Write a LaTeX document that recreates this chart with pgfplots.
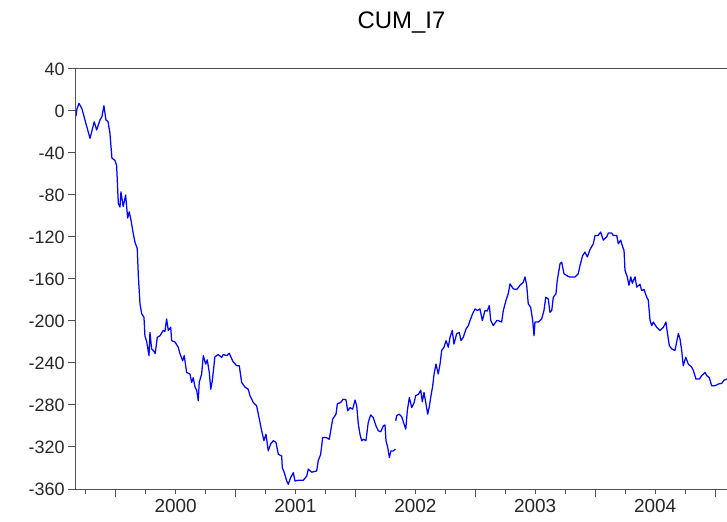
\documentclass[border=0pt]{standalone}
\usepackage{pgfplots}
\pgfplotsset{compat=1.18}
\usepackage{fontspec}
\setmainfont{Liberation Sans}
\definecolor{axisgray}{HTML}{505050}
\definecolor{labgray}{HTML}{262626}
\begin{document}
\begin{tikzpicture}[x=1bp,y=1bp]
\begin{axis}[
 at={(0,0)}, anchor=south west,
 scale only axis, width=651bp, height=420bp,
 xmin=1999.669, xmax=2005.100, ymin=-360, ymax=40,
 axis line style={draw=none},
 ytick={-360,-320,...,40},
 xtick={2000,2001,2002,2003,2004,2005}, xticklabels={},
 minor xtick={1999.75,2000.25,2000.5,2000.75,2001.25,2001.5,2001.75,2002.25,2002.5,2002.75,2003.25,2003.5,2003.75,2004.25,2004.5,2004.75},
 extra x ticks={2000.5,2001.5,2002.5,2003.5,2004.5},
 extra x tick labels={2000,2001,2002,2003,2004},
 extra x tick style={major tick length=0pt, tick style={draw=none}, xticklabel style={yshift=-7bp, font=\fontsize{19}{21}\selectfont}},
 tick align=outside, xtick pos=bottom, ytick pos=left,
 major tick length=8bp, minor tick length=4.5bp,
 tick style={color=axisgray, line width=1bp},
 /pgf/number format/assume math mode=true,
 ticklabel style={font=\fontsize{18}{20}\selectfont, text=labgray},
 title={CUM\_I7},
 title style={font=\fontsize{24}{26}\selectfont, at={(0.5,1)}, anchor=base, yshift=35bp},
 unbounded coords=jump,
 clip=false,
]
\addplot[color=blue, line width=1.25bp, line join=round] coordinates {
(1999.669,-5) (1999.677,2) (1999.694,7.3) (1999.719,2) (1999.752,-12) (1999.786,-26)
(1999.821,-10.3) (1999.841,-18) (1999.869,-8.7) (1999.886,-5) (1999.902,5) (1999.919,-8.7)
(1999.936,-10) (1999.952,-21) (1999.961,-34) (1999.969,-45) (1999.994,-47) (2000.008,-52)
(2000.022,-88) (2000.036,-91.5) (2000.044,-77) (2000.063,-91) (2000.083,-80) (2000.100,-102)
(2000.113,-96) (2000.128,-104) (2000.147,-117) (2000.161,-125) (2000.180,-131) (2000.189,-156.7)
(2000.203,-183.7) (2000.217,-193) (2000.236,-196.5) (2000.244,-214) (2000.259,-220) (2000.278,-233)
(2000.286,-210.8) (2000.300,-226.7) (2000.314,-228) (2000.330,-231) (2000.347,-215.6) (2000.370,-214)
(2000.397,-209) (2000.411,-210) (2000.425,-198) (2000.439,-209) (2000.459,-206) (2000.467,-218.7)
(2000.495,-220) (2000.522,-225) (2000.536,-231) (2000.559,-237.8) (2000.572,-233) (2000.592,-249)
(2000.620,-250.5) (2000.634,-258.5) (2000.647,-254) (2000.662,-263) (2000.676,-266) (2000.689,-276)
(2000.697,-258.5) (2000.717,-250.5) (2000.731,-233) (2000.751,-241) (2000.764,-237) (2000.781,-249)
(2000.793,-265) (2000.806,-257) (2000.828,-234) (2000.856,-232) (2000.884,-234.6) (2000.898,-232)
(2000.926,-233) (2000.948,-230.8) (2000.968,-236) (2000.981,-239) (2001.010,-242.6) (2001.031,-242.6)
(2001.051,-258.5) (2001.079,-263) (2001.106,-265) (2001.120,-271) (2001.148,-277.6) (2001.176,-280.8)
(2001.190,-288.7) (2001.218,-304.6) (2001.237,-314) (2001.254,-307.8) (2001.273,-323.7) (2001.293,-317)
(2001.315,-314) (2001.337,-315.5) (2001.357,-327) (2001.385,-328.5) (2001.390,-339.7) (2001.407,-344.5)
(2001.427,-352.4) (2001.440,-355.5) (2001.460,-349) (2001.482,-344.5) (2001.496,-352.4) (2001.523,-351.7)
(2001.565,-351.7) (2001.594,-347.6) (2001.607,-341) (2001.635,-344) (2001.677,-342.8) (2001.690,-333)
(2001.710,-327) (2001.727,-311) (2001.755,-311) (2001.782,-312.6) (2001.794,-304.6) (2001.810,-293.5)
(2001.838,-288.7) (2001.849,-279) (2001.877,-277.6) (2001.899,-274.4) (2001.921,-275) (2001.936,-285.5)
(2001.955,-282.5) (2001.977,-284) (2001.997,-275.3) (2002.011,-280.8) (2002.024,-298) (2002.038,-307.8)
(2002.052,-314) (2002.066,-312.6) (2002.088,-314) (2002.107,-296.7) (2002.127,-289.4) (2002.149,-292)
(2002.172,-299.9) (2002.191,-304.6) (2002.211,-305.5) (2002.233,-299.9) (2002.247,-299) (2002.255,-314)
(2002.269,-320) (2002.283,-330) (2002.297,-323.7) (2002.316,-323.7) (2002.334,-322)
(2002.335,nan)
(2002.336,-295) (2002.344,-290.3) (2002.364,-288.7) (2002.386,-291) (2002.405,-298) (2002.420,-303)
(2002.433,-285.5) (2002.450,-272.8) (2002.470,-282.4) (2002.489,-278) (2002.503,-271) (2002.525,-270)
(2002.545,-265.8) (2002.558,-277) (2002.572,-268) (2002.589,-279) (2002.603,-288.7) (2002.616,-282)
(2002.628,-272.8) (2002.645,-261.7) (2002.656,-250.5) (2002.672,-241) (2002.691,-250.5) (2002.706,-241)
(2002.720,-228) (2002.739,-225) (2002.756,-218.7) (2002.775,-225) (2002.789,-215.6) (2002.808,-209)
(2002.822,-222) (2002.845,-212) (2002.867,-211) (2002.881,-218.7) (2002.900,-215.5) (2002.923,-207.6)
(2002.942,-204.4) (2002.956,-199.6) (2002.978,-193) (2002.998,-188.5) (2003.017,-190) (2003.039,-188.5)
(2003.059,-199.6) (2003.081,-190) (2003.100,-190.5) (2003.117,-185.3) (2003.129,-199.6) (2003.150,-204.4)
(2003.179,-199.6) (2003.192,-199.6) (2003.220,-201) (2003.234,-190) (2003.256,-180.5) (2003.275,-174)
(2003.290,-164.6) (2003.317,-169.4) (2003.346,-170) (2003.373,-166) (2003.401,-163) (2003.415,-158)
(2003.429,-166) (2003.442,-183.7) (2003.462,-187) (2003.479,-199.6) (2003.490,-214) (2003.498,-201)
(2003.526,-201) (2003.554,-198) (2003.573,-190) (2003.588,-177.4) (2003.609,-179) (2003.623,-191.7)
(2003.638,-190) (2003.651,-177.4) (2003.673,-174) (2003.684,-161.4) (2003.707,-145.5) (2003.721,-144)
(2003.740,-155) (2003.763,-156.7) (2003.784,-158) (2003.832,-158) (2003.859,-155) (2003.874,-147)
(2003.896,-137.6) (2003.915,-134.4) (2003.935,-139) (2003.957,-132) (2003.985,-126.4) (2003.999,-118.5)
(2004.024,-118.5) (2004.046,-115.3) (2004.068,-123) (2004.096,-120) (2004.110,-116.3) (2004.138,-116.3)
(2004.151,-118.5) (2004.180,-118.5) (2004.193,-126.4) (2004.213,-123) (2004.230,-129.6) (2004.241,-132.8)
(2004.249,-151.9) (2004.268,-158) (2004.282,-166) (2004.297,-158) (2004.310,-164) (2004.333,-158)
(2004.347,-167.8) (2004.374,-165) (2004.388,-171) (2004.408,-170) (2004.430,-177.4) (2004.443,-180)
(2004.458,-199.6) (2004.472,-204.4) (2004.485,-201) (2004.514,-206) (2004.541,-209) (2004.569,-206)
(2004.591,-201) (2004.602,-210.8) (2004.619,-223.5) (2004.639,-226.6) (2004.666,-228) (2004.680,-220)
(2004.694,-212) (2004.708,-217) (2004.722,-228) (2004.735,-242.6) (2004.756,-234.6) (2004.777,-241)
(2004.806,-244) (2004.819,-247) (2004.841,-255.3) (2004.869,-255.3) (2004.889,-252) (2004.917,-249)
(2004.931,-252) (2004.952,-253.8) (2004.972,-261.7) (2005.000,-261.7) (2005.028,-260) (2005.056,-259.4)
(2005.075,-256.3) (2005.100,-255.3)
};
\draw[axisgray, line width=1bp] (rel axis cs:0,0) -- (rel axis cs:0,1) -- (rel axis cs:1,1);
\draw[axisgray, line width=1bp] (rel axis cs:0,0) -- (rel axis cs:1,0);
\end{axis}
\pgfresetboundingbox
\useasboundingbox (-76bp,-33bp) rectangle (651bp,489bp);
\end{tikzpicture}
\end{document}
